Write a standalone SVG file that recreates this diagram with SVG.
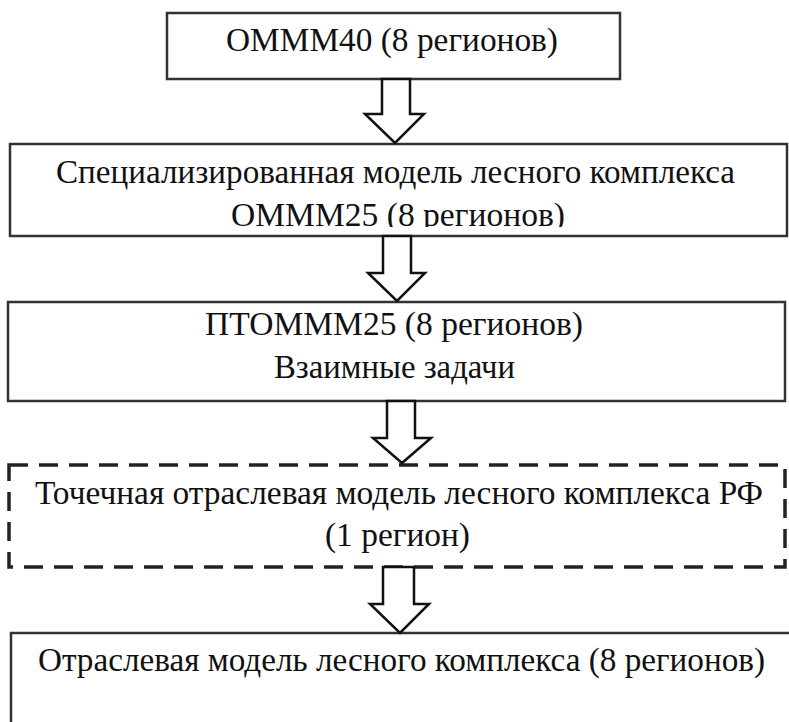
<svg xmlns="http://www.w3.org/2000/svg" width="789" height="722" viewBox="0 0 789 722">
<style>
.box{fill:#fff;stroke:#333;stroke-width:2.5}
.dash{fill:#fff;stroke:#222;stroke-width:3.5;stroke-dasharray:19 11}
.arr{fill:#fff;stroke:#111;stroke-width:2.5;stroke-linejoin:miter}
text{font-family:"Liberation Serif","Times New Roman",serif;font-size:31px;fill:#111}
</style>
<defs>
<clipPath id="clip2"><rect x="10" y="144" width="778" height="83"/></clipPath>
</defs>
<rect width="789" height="722" fill="#fff"/>
<g id="node1">
<rect class="box" x="167" y="13" width="453" height="66"/>
<text x="226" y="51" font-size="32" transform="translate(0,-6.12) scale(1,1.12)" textLength="332" lengthAdjust="spacingAndGlyphs">ОМММ40 (8 регионов)</text>
</g>
<g id="node2">
<rect class="box" x="10" y="144" width="777" height="92"/>
<g clip-path="url(#clip2)">
<text x="56" y="183" transform="translate(0,-21.96) scale(1,1.12)" textLength="679" lengthAdjust="spacingAndGlyphs">Специализированная модель лесного комплекса</text>
<text x="231" y="226" transform="translate(0,-27.12) scale(1,1.12)" textLength="334" lengthAdjust="spacingAndGlyphs">ОМММ25 (8 регионов)</text>
</g>
</g>
<g id="node3">
<rect class="box" x="8" y="302" width="777" height="99"/>
<text x="205" y="335" transform="translate(0,-40.2) scale(1,1.12)" textLength="378" lengthAdjust="spacingAndGlyphs">ПТОМММ25 (8 регионов)</text>
<text x="274" y="378" transform="translate(0,-45.36) scale(1,1.12)" textLength="241" lengthAdjust="spacingAndGlyphs">Взаимные задачи</text>
</g>
<g id="node4">
<rect class="dash" x="9" y="465" width="776" height="102"/>
<text x="35" y="504" transform="translate(0,-60.48) scale(1,1.12)" textLength="728" lengthAdjust="spacingAndGlyphs">Точечная отраслевая модель лесного комплекса РФ</text>
<text x="325" y="546" transform="translate(0,-65.52) scale(1,1.12)" textLength="145" lengthAdjust="spacingAndGlyphs">(1 регион)</text>
</g>
<g id="node5">
<rect class="box" x="11" y="633" width="790" height="100"/>
<text x="38" y="671" transform="translate(0,-80.52) scale(1,1.12)" textLength="727" lengthAdjust="spacingAndGlyphs">Отраслевая модель лесного комплекса (8 регионов)</text>
</g>
<g id="connectors">
<polygon class="arr" points="382,79 410,79 410,114 424,114 395,143 365,114 382,114"/>
<polygon class="arr" points="383,236 411,236 411,273 425,273 397,301 368,273 383,273"/>
<polygon class="arr" points="387,401 415,401 415,438 431,438 402,463 373,438 387,438"/>
<polygon class="arr" points="383,567 414,567 414,604 429,604 400,633 370,604 383,604"/>
</g>
</svg>
